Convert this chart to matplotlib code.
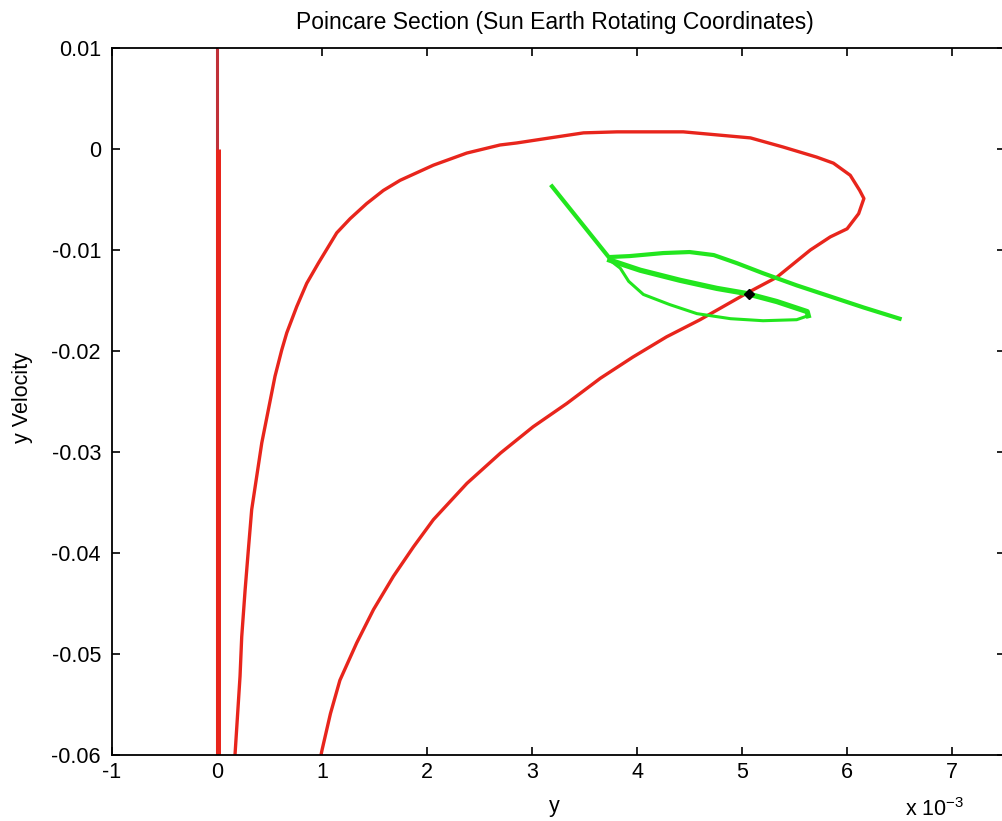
import matplotlib
matplotlib.use("Agg")
import matplotlib.pyplot as plt
from matplotlib.ticker import FuncFormatter

plt.rcParams['font.family'] = ['Liberation Sans', 'DejaVu Sans']
plt.rcParams['axes.unicode_minus'] = False

# x values are in units of 1e-3 (as in the "x 10^-3" axis multiplier)
X_SCALE = 1e-3

# red: straight branch at y = 0
wall_thin_x = [0.0, 0.0]
wall_thin_v = [0.01, -0.06]
wall_x = [0.005, 0.005]
wall_v = [0.0, -0.06]

# red: main section curve
red_x = [0.171, 0.219, 0.235, 0.267, 0.298, 0.330, 0.378, 0.426, 0.489, 0.552,
         0.616, 0.664, 0.759, 0.854, 0.965, 1.140, 1.267, 1.425, 1.584, 1.743,
         2.06, 2.378, 2.695, 2.854, 3.17, 3.49, 3.81, 4.12, 4.44, 4.76, 5.08,
         5.39, 5.71, 5.87, 6.03, 6.12, 6.16, 6.11, 6.00, 5.84, 5.65, 5.33, 5.04,
         4.82, 4.60, 4.28, 3.96, 3.65, 3.33, 3.01, 2.70, 2.38, 2.06, 1.87, 1.68,
         1.49, 1.33, 1.17, 1.08, 1.0, 0.99]
red_v = [-0.0600, -0.0522, -0.0483, -0.0437, -0.0397, -0.0357, -0.0324, -0.0291,
         -0.0258, -0.0225, -0.0199, -0.0182, -0.0156, -0.0133, -0.0113, -0.0083,
         -0.0069, -0.0054, -0.0041, -0.0031, -0.0016, -0.0004, 0.0004, 0.0006,
         0.0011, 0.0016, 0.0017, 0.0017, 0.0017, 0.0014, 0.0011, 0.0002, -0.0008,
         -0.0014, -0.0026, -0.0041, -0.0049, -0.0064, -0.0079, -0.0087, -0.0100,
         -0.0127, -0.0143, -0.0156, -0.0169, -0.0186, -0.0206, -0.0227, -0.0252,
         -0.0275, -0.0301, -0.0331, -0.0367, -0.0394, -0.0423, -0.0456, -0.0489,
         -0.0526, -0.0559, -0.0595, -0.0600]

# green: tail and upper edge
green_x = [3.19, 3.46, 3.73, 3.93, 4.25, 4.50, 4.73, 4.95, 5.20, 5.52, 5.84,
           6.16, 6.50]
green_v = [-0.0037, -0.0072, -0.0107, -0.0106, -0.0103, -0.0102, -0.0105,
           -0.0113, -0.0123, -0.0135, -0.0146, -0.0157, -0.0168]

# green: inner loop (thick middle stroke, then thin return)
loop_mid_x = [3.74, 4.03, 4.41, 4.76, 5.04, 5.33, 5.62, 5.63]
loop_mid_v = [-0.0110, -0.0120, -0.0130, -0.0138, -0.0143, -0.0151, -0.0161,
              -0.0165]
loop_ret_x = [5.63, 5.52, 5.20, 4.89, 4.57, 4.31, 4.06, 3.92, 3.84, 3.74]
loop_ret_v = [-0.0165, -0.0169, -0.0170, -0.0168, -0.0163, -0.0154, -0.0144,
              -0.0131, -0.0118, -0.0110]

# black crossing point
cross_x = [5.07]
cross_v = [-0.0144]

x_ticks = [-1, 0, 1, 2, 3, 4, 5, 6, 7]
v_ticks = [0.01, 0, -0.01, -0.02, -0.03, -0.04, -0.05, -0.06]

RED = '#e8251c'
GREEN = '#22e61e'
FS = 15.5


def sc(vals):
    return [v * X_SCALE for v in vals]


fig = plt.figure(figsize=(10.03, 8.21), dpi=100)
ax = fig.add_axes([0.1117, 0.0804, 0.8899, 0.8611])

ax.plot(sc(wall_thin_x), wall_thin_v, color='#c03038', lw=2.2, solid_capstyle='butt')
ax.plot(sc(wall_x), wall_v, color=RED, lw=3.6, solid_capstyle='butt')
ax.plot(sc(red_x), red_v, color=RED, lw=2.4, solid_joinstyle='round')

ax.plot(sc(green_x), green_v, color=GREEN, lw=3.0, solid_joinstyle='round')
ax.plot(sc(loop_mid_x), loop_mid_v, color=GREEN, lw=3.8, solid_joinstyle='round')
ax.plot(sc(loop_ret_x), loop_ret_v, color=GREEN, lw=2.2, solid_joinstyle='round')
ax.plot(sc(cross_x), cross_v, marker='D', color='black', ms=5, ls='none')

ax.set_xlim(-1 * X_SCALE, 7.5 * X_SCALE)
ax.set_ylim(-0.06, 0.01)
ax.set_xticks(sc(x_ticks))
ax.set_yticks(v_ticks)
ax.xaxis.set_major_formatter(FuncFormatter(lambda v, p: '%g' % round(v / X_SCALE, 6)))
ax.yaxis.set_major_formatter(FuncFormatter(lambda v, p: '%g' % round(v, 6)))
ax.tick_params(direction='in', length=6, width=1.2, top=True, right=True,
               labelsize=FS)
ax.tick_params(axis='y', pad=8)
ax.tick_params(axis='x', pad=5)
for s in ax.spines.values():
    s.set_linewidth(1.3)

fig.text(555 / 1003, 1 - 23 / 821, 'Poincare Section (Sun Earth Rotating Coordinates)',
         fontsize=16.5, ha='center', va='center')
ax.set_xlabel('y', fontsize=FS)
ax.xaxis.set_label_coords(0.495, -0.058)
ax.set_ylabel('y Velocity', fontsize=FS)
ax.yaxis.set_label_coords(-0.088, 0.505)
fig.text(905 / 1003, 1 - 816 / 821, r'x 10$^{\mathregular{-3}}$', fontsize=FS,
         va='baseline')

fig.savefig('out.png', dpi=100)
